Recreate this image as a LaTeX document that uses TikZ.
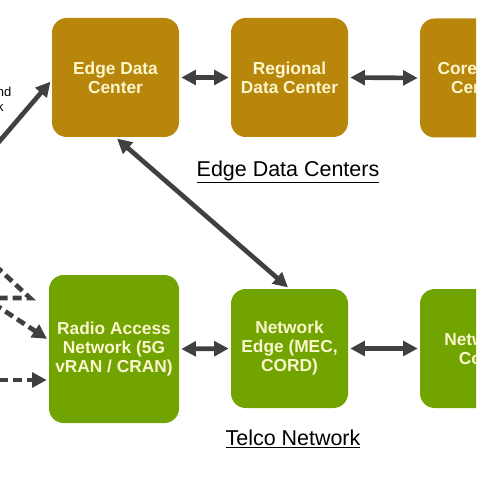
\documentclass[tikz,border=0pt]{standalone}
\usepackage{fontspec}
\setmainfont{Liberation Sans}
\usetikzlibrary{arrows.meta}

\definecolor{dcgold}{RGB}{184,134,11}
\definecolor{telgreen}{RGB}{113,164,0}
\definecolor{boxtext}{RGB}{250,246,205}
\definecolor{arrowgray}{RGB}{64,64,66}

\tikzset{
  dcbox/.style={fill=dcgold, rounded corners=11pt, inner sep=0pt, align=center,
    text=boxtext, font=\bfseries\fontsize{13}{14.25}\selectfont},
  telbox/.style={dcbox, fill=telgreen},
  link/.style={draw=arrowgray, line width=3.5pt, shorten <=1.5pt, shorten >=1.5pt},
  biarrow/.style={link, {Triangle[length=11pt,width=11pt]}-{Triangle[length=11pt,width=11pt]}},
  toarrow/.style={link, -{Triangle[length=11pt,width=11pt]}},
  dasharrow/.style={toarrow, dash pattern=on 6.75pt off 3.75pt},
  groupname/.style={font=\fontsize{16.1}{18}\selectfont, inner sep=0pt}
}

\begin{document}
\begin{tikzpicture}[x=0.75pt,y=0.75pt,yscale=-1,xscale=1]
\path[use as bounding box] (0,0) rectangle (476,477);
\clip (0,0) rectangle (476,477);

%Shape: data center row
\node [dcbox, minimum width=95.25pt, minimum height=89.25pt] (edc) at (115.5,77.5) {Edge Data\\Center};
\node [dcbox, minimum width=87.75pt, minimum height=89.25pt] (rdc) at (289.5,77.5) {Regional\\Data Center};
\node [dcbox, minimum width=87.75pt, minimum height=89.25pt] (cdc) at (478.5,78) {Core Data\\Center};

%Shape: telco row
\node [telbox, minimum width=97.5pt, minimum height=111pt] (ran) at (114,349) {Radio Access\\Network (5G\\vRAN / CRAN)};
\node [telbox, minimum width=87.75pt, minimum height=89.25pt] (ne) at (289.5,348.5) {Network\\Edge (MEC,\\CORD)};
\node [telbox, minimum width=87.75pt, minimum height=89.25pt] (nc) at (478.5,348.5) {Network\\Core};

% Text Node
\node [groupname, anchor=center] (edclabel) at (288,172) {\underline{Edge Data Centers}};
% Text Node
\node [groupname, anchor=center] (tellabel) at (293,439) {\underline{Telco Network}};
% Text Node
\node [font=\fontsize{9.75}{11}\selectfont, inner sep=0pt, anchor=east] (sidetop) at (11.5,92) {nd};
\node [font=\fontsize{9.75}{11}\selectfont, inner sep=0pt, anchor=east] (sidebot) at (4,107) {k};

%Connectors
\draw [biarrow] (edc.east) -- (rdc.west);
\draw [biarrow] (rdc.east) -- (cdc.west);
\draw [biarrow] (ran.east) -- (ne.west);
\draw [biarrow] (ne.east) -- (nc.west);
\draw [biarrow] (edc.south) -- (ne.north);

\coordinate (bhin) at (-20,164);
\draw [toarrow, shorten <=0pt] (bhin) -- ([yshift=2pt]edc.west);

%Dashed feeds
\coordinate (fa) at (-15,256);
\coordinate (fb) at (-15,298);
\coordinate (fc) at (-18,296);
\coordinate (fd) at (-15,380);
\coordinate (fmeet) at (30,298);
\draw [link, dash pattern=on 6.75pt off 3.75pt, shorten <=0pt, shorten >=0pt] (fa) -- (fmeet) -- (fb);
\draw [dasharrow, shorten <=0pt] (fc) -- ([yshift=-6.75pt]ran.west);
\draw [dasharrow, shorten <=0pt] (fd) -- ([yshift=23.25pt]ran.west);

\end{tikzpicture}
\end{document}
